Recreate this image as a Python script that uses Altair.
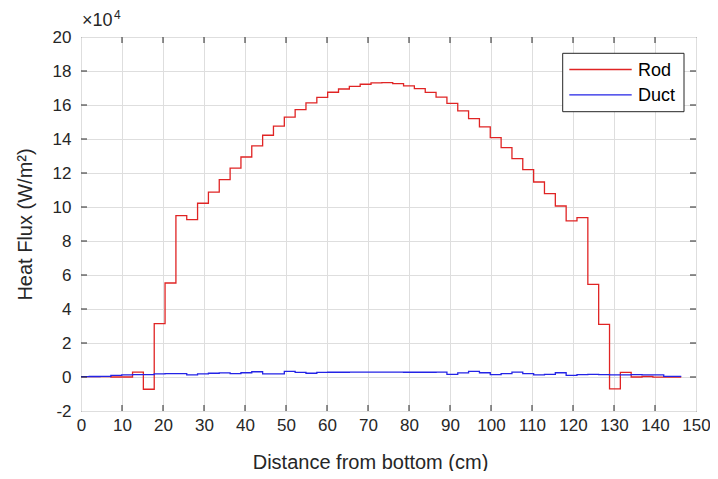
import altair as alt
import pandas as pd

# ---- data (heat flux in units of 1e4 W/m^2) ----
BIN_START = [0.0, 2.0, 4.64, 7.28, 9.93,
             12.57, 15.21, 17.86, 20.50, 23.15, 25.79, 28.43, 31.08, 33.72, 36.37,
             39.01, 41.65, 44.30, 46.94, 49.59, 52.23, 54.87, 57.52, 60.16, 62.81,
             65.45, 68.09, 70.74, 73.38, 76.03, 78.67, 81.31, 83.96, 86.60, 89.25,
             91.89, 94.53, 97.18, 99.82, 102.47, 105.11, 107.75, 110.40, 113.04, 115.69,
             118.33, 120.97, 123.62, 126.26, 128.91, 131.55,
             134.19, 136.84, 139.48, 142.13, 144.77]
END_X = 146.4

ROD = [0.02, 0.02, 0.02, 0.0, 0.0,
       0.29, -0.72, 3.14, 5.53, 9.49, 9.26, 10.22, 10.88, 11.61, 12.29,
       12.94, 13.59, 14.22, 14.76, 15.29, 15.73, 16.12, 16.45, 16.75, 16.94,
       17.10, 17.22, 17.30, 17.32, 17.26, 17.12, 16.96, 16.74, 16.46, 16.10,
       15.65, 15.20, 14.71, 14.08, 13.49, 12.85, 12.20, 11.47, 10.79, 10.06,
       9.18, 9.38, 5.45, 3.10, -0.70, 0.27,
       0.0, 0.03, -0.01, 0.0, 0.0]

DUCT = [0.02, 0.03, 0.04, 0.10, 0.12,
        0.14, 0.14, 0.18, 0.20, 0.20, 0.12, 0.18, 0.22, 0.24, 0.20,
        0.25, 0.31, 0.18, 0.18, 0.33, 0.27, 0.22, 0.27, 0.28, 0.28,
        0.29, 0.29, 0.29, 0.29, 0.29, 0.28, 0.28, 0.28, 0.29, 0.16,
        0.24, 0.33, 0.25, 0.14, 0.20, 0.29, 0.20, 0.12, 0.16, 0.25,
        0.10, 0.14, 0.16, 0.14, 0.12, 0.12,
        0.14, 0.12, 0.12, 0.04, 0.04]

X_TICKS = list(range(0, 151, 10))
Y_TICKS = list(range(-2, 21, 2))
SERIES = ["Rod", "Duct"]
COLORS = ["#e02424", "#2323e6"]

FONT = "Liberation Sans"
TXT = "#262626"
W, H = 615, 374

def series_df(vals):
    return pd.DataFrame({"x": BIN_START + [END_X], "v": vals + [vals[-1]]})

x_scale = alt.Scale(domain=[0, 150], nice=False, zero=False)
y_scale = alt.Scale(domain=[-2, 20], nice=False, zero=False)

x_axis = alt.Axis(values=X_TICKS, title="Distance from bottom (cm)", grid=True,
                  ticks=False, tickSize=0, domain=False, labelFlush=False,
                  labelOverlap=False, labelPadding=6, titlePadding=19,
                  titleX=289, titleAlign="center")
y_axis = alt.Axis(values=Y_TICKS, title="Heat Flux (W/m²)", grid=True,
                  ticks=False, tickSize=0, domain=False, labelFlush=False,
                  labelOverlap=False, labelPadding=10, titlePadding=17,
                  labelExpr="'' + datum.value")

rod = alt.Chart(series_df(ROD)).mark_line(
    interpolate="step-after", strokeWidth=1.3, color=COLORS[0]
).encode(
    x=alt.X("x:Q", scale=x_scale, axis=x_axis),
    y=alt.Y("v:Q", scale=y_scale, axis=y_axis),
)
duct = alt.Chart(series_df(DUCT)).mark_line(
    interpolate="step-after", strokeWidth=1.3, color=COLORS[1]
).encode(
    x=alt.X("x:Q", scale=x_scale, axis=x_axis),
    y=alt.Y("v:Q", scale=y_scale, axis=y_axis),
)

xt = pd.DataFrame({"x": X_TICKS[1:-1]})
yt = pd.DataFrame({"v": Y_TICKS[1:-1]})
TL = 6
tick_layers = [
    alt.Chart(xt).mark_rule(color=TXT, strokeWidth=1).encode(
        x=alt.X("x:Q", scale=x_scale, axis=x_axis), y=alt.value(H), y2=alt.value(H - TL)),
    alt.Chart(xt).mark_rule(color=TXT, strokeWidth=1).encode(
        x=alt.X("x:Q", scale=x_scale, axis=x_axis), y=alt.value(0), y2=alt.value(TL)),
    alt.Chart(yt).mark_rule(color=TXT, strokeWidth=1).encode(
        y=alt.Y("v:Q", scale=y_scale, axis=y_axis), x=alt.value(0), x2=alt.value(TL)),
    alt.Chart(yt).mark_rule(color=TXT, strokeWidth=1).encode(
        y=alt.Y("v:Q", scale=y_scale, axis=y_axis), x=alt.value(W), x2=alt.value(W - TL)),
]

# exponent label above the y axis
one = pd.DataFrame({"a": [0]})
exp_main = alt.Chart(one).mark_text(text="×10", font=FONT, fontSize=18, color=TXT,
                                    align="left", baseline="middle").encode(
    x=alt.value(1), y=alt.value(-16))
exp_sup = alt.Chart(one).mark_text(text="4", font=FONT, fontSize=12, color=TXT,
                                   align="left", baseline="middle").encode(
    x=alt.value(33), y=alt.value(-22))

# legend box
LX0, LX1, LY0, LY1 = 481.7, 603.0, 16.3, 74.7
leg_box = alt.Chart(one).mark_rect(fill="white", stroke=TXT, strokeWidth=1).encode(
    x=alt.value(LX0), x2=alt.value(LX1), y=alt.value(LY0), y2=alt.value(LY1))
leg_layers = []
for i, (name, col) in enumerate(zip(SERIES, COLORS)):
    yy = 32.5 + i * 25.3
    leg_layers.append(alt.Chart(one).mark_rule(color=col, strokeWidth=1.3).encode(
        x=alt.value(488.3), x2=alt.value(550.7), y=alt.value(yy)))
    leg_layers.append(alt.Chart(one).mark_text(text=name, font=FONT, fontSize=18, color="#000000",
                                               align="left", baseline="middle").encode(
        x=alt.value(557), y=alt.value(yy + 1)))

chart = alt.layer(
    rod, duct, *tick_layers, exp_main, exp_sup, leg_box, *leg_layers
).properties(
    width=W, height=H,
    autosize=alt.AutoSizeParams(type="none"),
    padding={"left": 73, "top": 29, "right": 14, "bottom": 60},
    background="white",
).configure_view(
    stroke=TXT, strokeWidth=1
).configure_axis(
    labelFont=FONT, titleFont=FONT, labelFontSize=17, titleFontSize=20,
    labelColor=TXT, titleColor=TXT, titleFontWeight="normal",
    gridColor="#dedede", gridWidth=1, gridOpacity=1,
)

chart.save("out.html", embed_options={"renderer": "svg", "actions": False})
